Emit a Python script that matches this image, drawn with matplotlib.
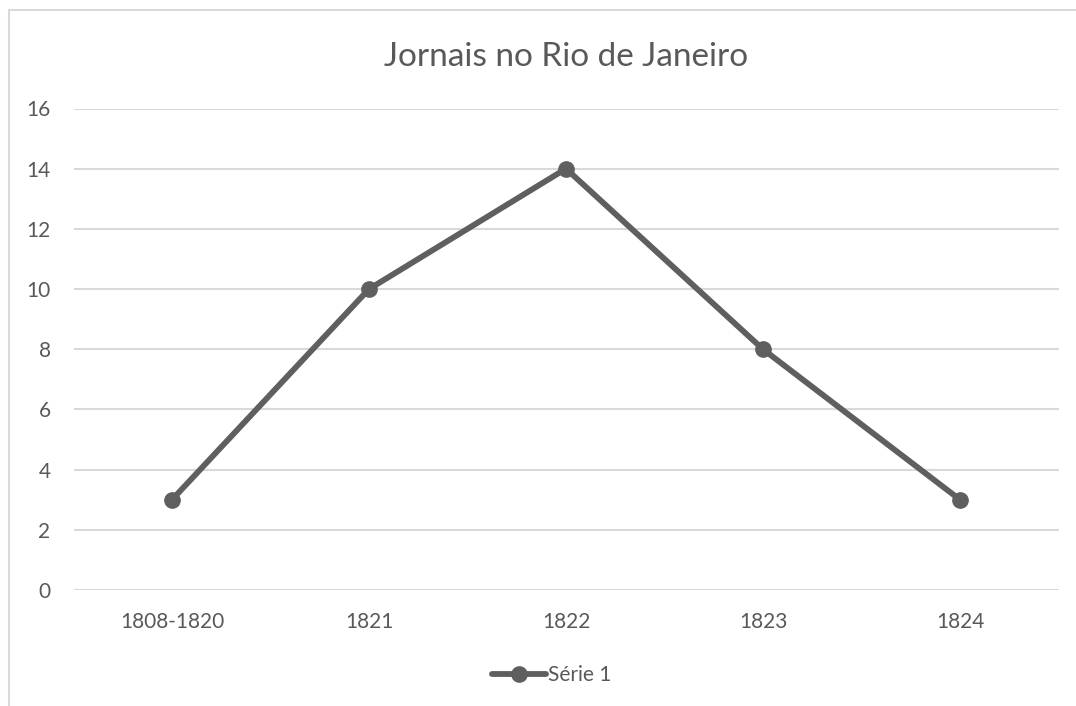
from matplotlib import pyplot as plt
from matplotlib.patches import Rectangle

categories = ["1808-1820", "1821", "1822", "1823", "1824"]
values = [3, 10, 14, 8, 3]
yticks = [0, 2, 4, 6, 8, 10, 12, 14, 16]

LINE = "#5f5f5f"
TEXT = "#595959"
GRID = "#d9d9d9"


def main():
    plt.rcParams['font.family'] = ['Lato', 'DejaVu Sans']
    fig = plt.figure(figsize=(10.76, 7.06), dpi=100)

    # chart frame (only top/left visible in the original crop)
    fig.patches.append(Rectangle((9 / 1076, -0.1), 1.2, (706 - 10) / 706 + 0.1,
                                 transform=fig.transFigure, fill=False,
                                 edgecolor=GRID, lw=1.5))

    ax = fig.add_axes([73.5 / 1076, 1 - 590 / 706, 985 / 1076, 481.5 / 706])
    x = list(range(len(categories)))
    ax.plot(x, values, color=LINE, lw=4.2, marker='o', markersize=11,
            label="Série 1", zorder=3, solid_capstyle='round')

    ax.set_xlim(-0.5, len(categories) - 0.5)
    ax.set_ylim(0, 16)
    ax.set_yticks(yticks)
    ax.set_xticks(x)
    ax.set_xticklabels(categories)
    ax.yaxis.grid(True, color=GRID, lw=1.5)
    ax.set_axisbelow(True)
    for s in ax.spines.values():
        s.set_visible(False)
    ax.tick_params(length=0, labelsize=15, labelcolor=TEXT)
    ax.tick_params(axis='y', pad=16.5)
    ax.tick_params(axis='x', pad=16)

    fig.text(0.5 * (73.5 + 1058.5) / 1076, 1 - 57 / 706, "Jornais no Rio de Janeiro",
             ha='center', va='center', fontsize=24, color=TEXT)

    leg = fig.legend(loc='center', bbox_to_anchor=(552 / 1076, 1 - 675 / 706),
                     frameon=False, fontsize=15, handlelength=2.6,
                     handletextpad=0.1)
    for t in leg.get_texts():
        t.set_color(TEXT)

    fig.savefig("out.png", dpi=100)


if __name__ == "__main__":
    main()
